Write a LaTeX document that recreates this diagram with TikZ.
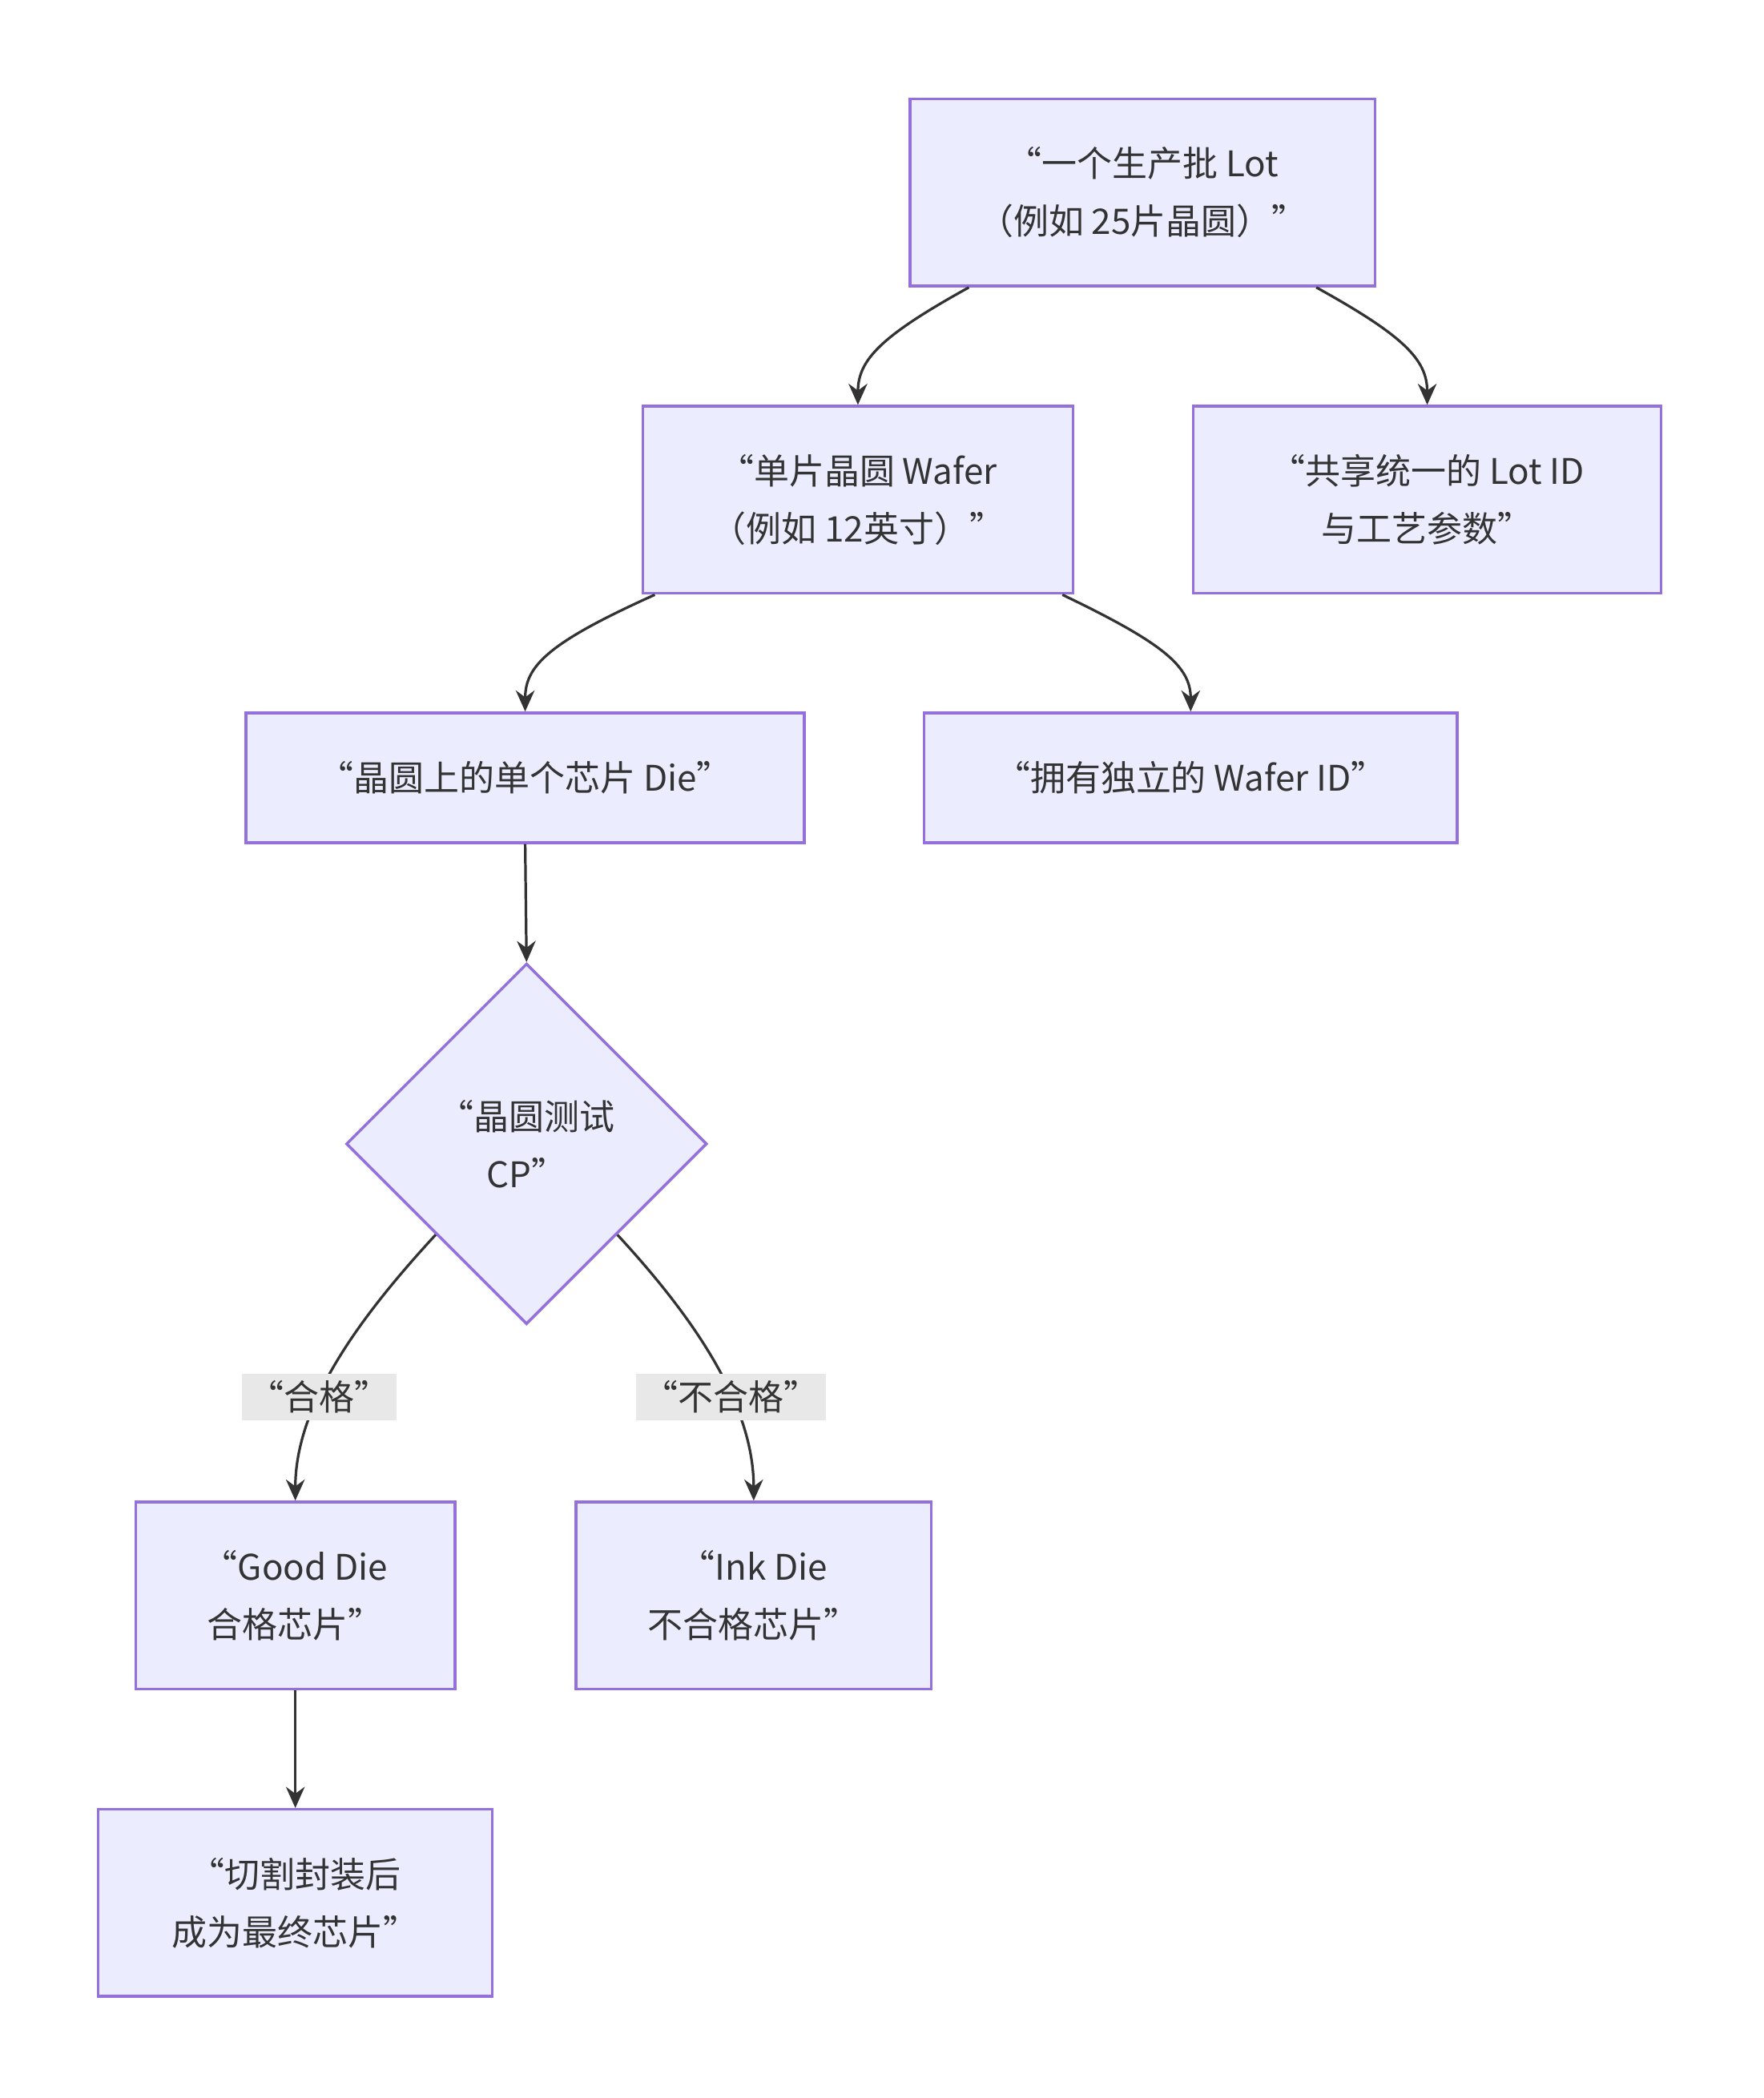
\documentclass[tikz,border=0pt]{standalone}
\usepackage{fontspec}
\setmainfont{Noto Sans CJK SC}
\usetikzlibrary{shapes.geometric,arrows.meta}
\definecolor{nfill}{HTML}{ECECFF}
\definecolor{nline}{HTML}{9370DB}
\definecolor{eline}{HTML}{333333}
\begin{document}
\begin{tikzpicture}[x=0.02cm,y=-0.02cm,
  box/.style={draw=nline,fill=nfill,line width=1.2pt,align=center,text=eline,font=\fontsize{15}{24.5}\selectfont,inner sep=0pt},
  edge/.style={draw=eline,line width=1.1pt,-{Stealth[length=9pt,width=8pt]}},
  lab/.style={fill=black!9,text=eline,font=\fontsize{15}{20}\selectfont,inner sep=3pt}]
\useasboundingbox (0,0) rectangle (1320,1570);
\node[box,minimum width=348*0.02cm,minimum height=140*0.02cm] (lot) at (855,144) {“一个生产批 Lot\\（例如 25片晶圆）”};
\node[box,minimum width=322*0.02cm,minimum height=140*0.02cm] (wafer) at (642,374) {“单片晶圆 Wafer\\（例如 12英寸）”};
\node[box,minimum width=350*0.02cm,minimum height=140*0.02cm] (shared) at (1068,374) {“共享统一的 Lot ID\\与工艺参数”};
\node[box,minimum width=418*0.02cm,minimum height=97*0.02cm] (die) at (393,582) {“晶圆上的单个芯片 Die”};
\node[box,minimum width=399*0.02cm,minimum height=97*0.02cm] (wid) at (891,582) {“拥有独立的 Wafer ID”};
\node[box,diamond,minimum width=270*0.02cm,minimum height=270*0.02cm] (cp) at (394,856) {“晶圆测试\\CP”};
\node[box,minimum width=239*0.02cm,minimum height=140*0.02cm] (good) at (221,1194) {“Good Die\\合格芯片”};
\node[box,minimum width=266*0.02cm,minimum height=140*0.02cm] (ink) at (564,1194) {“Ink Die\\不合格芯片”};
\node[box,minimum width=295*0.02cm,minimum height=140*0.02cm] (fin) at (221,1424) {“切割封装后\\成为最终芯片”};
\draw[edge] ([xshift=-130*0.02cm]lot.south) .. controls +(-65,36) and +(0,-34) .. (wafer.north);
\draw[edge] ([xshift=130*0.02cm]lot.south) .. controls +(65,36) and +(0,-34) .. (shared.north);
\draw[edge] ([xshift=-152*0.02cm]wafer.south) .. controls +(-80,36) and +(0,-34) .. (die.north);
\draw[edge] ([xshift=153*0.02cm]wafer.south) .. controls +(75,36) and +(0,-34) .. (wid.north);
\draw[edge] (die.south) -- (cp.north);
\draw[edge] (cp.south west) .. controls +(-60,65) and +(0,-70) .. (good.north) node[lab,pos=0.62] {“合格”};
\draw[edge] (cp.south east) .. controls +(60,65) and +(0,-70) .. (ink.north) node[lab,pos=0.62] {“不合格”};
\draw[edge] (good.south) -- (fin.north);
\end{tikzpicture}
\end{document}
